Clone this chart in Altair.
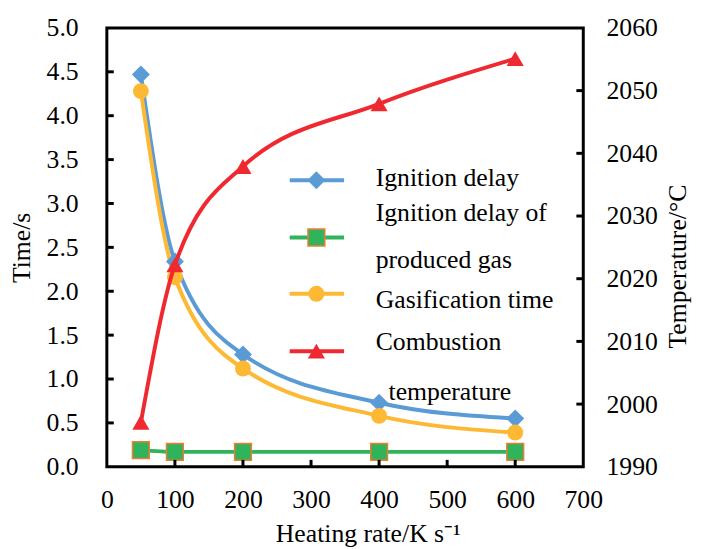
import altair as alt
import pandas as pd

# ---------------- data ----------------
rates = [50, 100, 200, 400, 600]
ignition_delay = [4.47, 2.34, 1.28, 0.73, 0.55]
gas_ignition_delay = [0.19, 0.17, 0.17, 0.17, 0.17]
gasification_time = [4.28, 2.16, 1.12, 0.58, 0.39]
combustion_temp = [1997.1, 2022.2, 2037.9, 2047.9, 2055.1]

x_ticks = [0, 100, 200, 300, 400, 500, 600, 700]
time_ticks = [0.0, 0.5, 1.0, 1.5, 2.0, 2.5, 3.0, 3.5, 4.0, 4.5, 5.0]
temp_ticks = [1990, 2000, 2010, 2020, 2030, 2040, 2050, 2060]

legend_labels = ["Ignition delay", "Ignition delay of", "produced gas",
                 "Gasification time", "Combustion", "temperature"]

# ---------------- style ----------------
FONT = "Liberation Serif, 'Times New Roman', serif"
FS = 26
BLUE = "#5B9BD5"
GREEN = "#2FB35B"
SQ_EDGE = "#ED7D31"
YELLOW = "#FDB933"
RED = "#EE2A30"
W, H = 482, 444

df_blue = pd.DataFrame({"rate": rates, "time": ignition_delay})
df_green = pd.DataFrame({"rate": rates, "time": gas_ignition_delay})
df_yellow = pd.DataFrame({"rate": rates, "time": gasification_time})
df_red = pd.DataFrame({"rate": rates, "temp": combustion_temp})

x_enc = alt.X(
    "rate:Q",
    scale=alt.Scale(domain=[0, 700], nice=False, zero=False),
    axis=alt.Axis(values=x_ticks, title="Heating rate/K s\u207b\u00b9", ticks=False, domain=False,
                  grid=False, labelPadding=33, labelBaseline="middle", labelFlush=False,
                  labelOverlap=False, titleX=264, titleY=68, titleBaseline="middle",
                  titleAlign="center"),
)
x_plain = alt.X("rate:Q")

y_left = alt.Y(
    "time:Q",
    scale=alt.Scale(domain=[0, 5], nice=False),
    axis=alt.Axis(values=time_ticks, format=".1f", title="Time/s", ticks=False, domain=False,
                  grid=False, labelPadding=29, labelFlush=False, labelOverlap=False,
                  titleAngle=-90, titleX=-86, titleY=222, titleAlign="center",
                  titleBaseline="middle"),
)
y_left_plain = alt.Y("time:Q")

y_right = alt.Y(
    "temp:Q",
    scale=alt.Scale(domain=[1990, 2060], nice=False, zero=False),
    axis=alt.Axis(orient="right", values=temp_ticks, format="d", title="Temperature/\u00b0C",
                  ticks=False, domain=False, grid=False, labelPadding=23, labelFlush=False,
                  labelOverlap=False, titleAngle=-90, titleX=95, titleY=241,
                  titleAlign="center", titleBaseline="middle"),
)
y_right_plain = alt.Y("temp:Q")

LW = 4

blue_line = alt.Chart(df_blue).mark_line(color=BLUE, strokeWidth=LW, interpolate="monotone").encode(x=x_enc, y=y_left)
blue_pts = alt.Chart(df_blue).mark_point(shape="diamond", filled=True, size=330, color=BLUE, opacity=1).encode(x=x_plain, y=y_left_plain)
green_line = alt.Chart(df_green).mark_line(color=GREEN, strokeWidth=LW, interpolate="monotone").encode(x=x_plain, y=y_left_plain)
green_pts = alt.Chart(df_green).mark_point(shape="square", filled=True, size=290, fill=GREEN, stroke=SQ_EDGE,
                                           strokeWidth=1.5, opacity=1).encode(x=x_plain, y=y_left_plain)
yellow_line = alt.Chart(df_yellow).mark_line(color=YELLOW, strokeWidth=LW, interpolate="monotone").encode(x=x_plain, y=y_left_plain)
yellow_pts = alt.Chart(df_yellow).mark_point(shape="circle", filled=True, size=260, color=YELLOW, opacity=1).encode(x=x_plain, y=y_left_plain)

# inward tick marks
df_xt = pd.DataFrame({"rate": x_ticks[1:-1]})
df_lt = pd.DataFrame({"time": time_ticks[1:-1]})
df_rt = pd.DataFrame({"temp": temp_ticks[1:-1]})
x_tick_marks = alt.Chart(df_xt).mark_rule(color="black", strokeWidth=3).encode(
    x=x_plain, y=alt.value(H), y2=alt.value(H - 7))
l_tick_marks = alt.Chart(df_lt).mark_rule(color="black", strokeWidth=3).encode(
    y=y_left_plain, x=alt.value(0), x2=alt.value(7))
r_tick_marks = alt.Chart(df_rt).mark_rule(color="black", strokeWidth=3).encode(
    y=y_right_plain, x=alt.value(W), x2=alt.value(W - 7))

# legend (decoration)
one = pd.DataFrame({"a": [0]})
LX1, LX2, LXM = 185, 240, 212
legend_layers = []
sym_specs = [
    (154, BLUE, dict(shape="diamond", size=330, color=BLUE)),
    (212, GREEN, dict(shape="square", size=290, fill=GREEN, stroke=SQ_EDGE, strokeWidth=1.5)),
    (269, YELLOW, dict(shape="circle", size=260, color=YELLOW)),
    (327, RED, dict(shape="triangle-up", size=300, color=RED)),
]
for ly, col, kw in sym_specs:
    legend_layers.append(alt.Chart(one).mark_rule(color=col, strokeWidth=LW).encode(
        x=alt.value(LX1), x2=alt.value(LX2), y=alt.value(ly)))
    legend_layers.append(alt.Chart(one).mark_point(filled=True, opacity=1, **kw).encode(
        x=alt.value(LXM), y=alt.value(ly)))
text_pos = [(272, 152), (272, 187), (272, 235), (272, 275), (272, 318), (285, 368)]
for lab, (tx, ty) in zip(legend_labels, text_pos):
    legend_layers.append(alt.Chart(one).mark_text(font=FONT, fontSize=FS, align="left", baseline="middle",
                                                  color="black").encode(
        x=alt.value(tx), y=alt.value(ty), text=alt.value(lab)))

left_group = alt.layer(blue_line, green_line, yellow_line, blue_pts, green_pts, yellow_pts,
                       x_tick_marks, l_tick_marks, *legend_layers)

red_line = alt.Chart(df_red).mark_line(color=RED, strokeWidth=LW, interpolate="monotone").encode(x=x_plain, y=y_right)
red_pts = alt.Chart(df_red).mark_point(shape="triangle-up", filled=True, size=300, color=RED, opacity=1).encode(
    x=x_plain, y=y_right_plain)
right_group = alt.layer(red_line, red_pts, r_tick_marks)

chart = alt.layer(left_group, right_group).resolve_scale(y="independent").properties(
    width=W, height=H,
    autosize=alt.AutoSizeParams(type="none"),
    padding={"left": 100, "top": 17, "right": 111, "bottom": 80},
    background="white",
).configure_view(stroke="black", strokeWidth=3).configure_axis(
    labelFont=FONT, labelFontSize=FS, labelColor="black",
    titleFont=FONT, titleFontSize=FS, titleFontWeight="normal", titleColor="black",
)

chart.save("out.html", embed_options={"renderer": "svg", "actions": False})
